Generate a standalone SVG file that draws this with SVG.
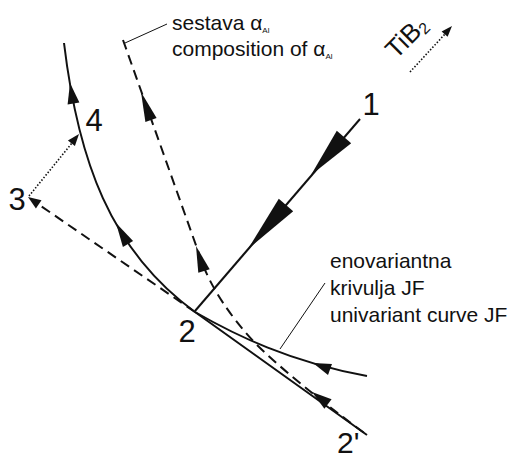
<svg xmlns="http://www.w3.org/2000/svg" width="511" height="461" viewBox="0 0 511 461">
<style>
.ln{fill:none;stroke:#111;stroke-width:2;stroke-linecap:butt;stroke-linejoin:round}
.dash{stroke-dasharray:10 6}
.dot{fill:none;stroke:#111;stroke-width:1.6;stroke-dasharray:1.5 1.8}
.thin{fill:none;stroke:#111;stroke-width:1}
.ah{fill:#111;stroke:none}
.t{font-family:"Liberation Sans",Arial,sans-serif;fill:#111}
.num{font-size:31px}
.lbl{font-size:21px}
.sub{font-size:8px}
</style>
<rect width="511" height="461" fill="#fff"/>
<g id="connectors">
  <!-- solid curve 4 - 2 - 2' -->
  <path class="ln" d="M64,43 C78,160 110,250 195,312 L367,435"/>
  <!-- path 1 -> 2 -->
  <path class="ln" d="M360,119 L195,311"/>
  <!-- univariant curve JF -->
  <path class="ln" d="M195,312 C235,335 290,362 367,376"/>
  <!-- composition of alpha_Al (dashed) -->
  <path class="ln dash" d="M123,40 L203,265 Q218,303 255,343 Q290,378 367,435"/>
  <!-- dashed 2 -> 3 -->
  <path class="ln dash" d="M195,312 L38,204"/>
  <!-- dotted 3 -> 4 -->
  <path class="dot" d="M29,196 L72,143"/>
  <!-- TiB2 direction -->
  <path class="dot" d="M410,72 L445,34"/>
  <!-- leader lines -->
  <path class="thin" d="M167,24 L125,43"/>
  <path class="thin" d="M325,283 L280,349"/>
  <!-- arrowheads -->
  <polygon class="ah" points="311,175 351.2,143.2 336.8,130.8"/>
  <polygon class="ah" points="248,249 293.2,211.2 278.8,198.8"/>
  <polygon class="ah" points="70,83 79.4,102.4 67.6,104.6"/>
  <polygon class="ah" points="116,223 133.1,240.9 122.9,247.1"/>
  <polygon class="ah" points="141,92 156.6,117.9 145.4,122.1"/>
  <polygon class="ah" points="196,246 209.7,269.2 198.3,272.8"/>
  <polygon class="ah" points="312,392 331.6,399.2 324.4,408.8"/>
  <polygon class="ah" points="313,363 332,363.9 328,375.1"/>
  <polygon class="ah" points="28,197 41.5,200.3 35.9,208.5"/>
  <polygon class="ah" points="79,134 74.9,146.1 67.9,140.5"/>
  <polygon class="ah" points="452,26 447.6,36.8 441.6,31.4"/>
</g>
<g id="node-1"><text class="t num" x="371" y="115" text-anchor="middle">1</text></g>
<g id="node-2"><text class="t num" x="187" y="342" text-anchor="middle">2</text></g>
<g id="node-2prime"><text class="t" font-size="30" x="337" y="453">2'</text></g>
<g id="node-3"><text class="t num" x="17" y="210" text-anchor="middle">3</text></g>
<g id="node-4"><text class="t num" x="94" y="131" text-anchor="middle">4</text></g>
<g id="label-alpha">
  <text class="t lbl" x="172" y="30">sestava α<tspan class="sub" dy="3">Al</tspan></text>
  <text class="t lbl" x="172" y="56">composition of α<tspan class="sub" dy="3">Al</tspan></text>
</g>
<g id="label-univariant">
  <text class="t lbl" x="330" y="268">enovariantna</text>
  <text class="t lbl" x="330" y="295">krivulja JF</text>
  <text class="t lbl" x="330" y="322">univariant curve JF</text>
</g>
<g id="label-tib2">
  <text class="t" font-size="26" transform="translate(396,60) rotate(-45)">TiB<tspan font-size="16" dy="3">2</tspan></text>
</g>
</svg>
